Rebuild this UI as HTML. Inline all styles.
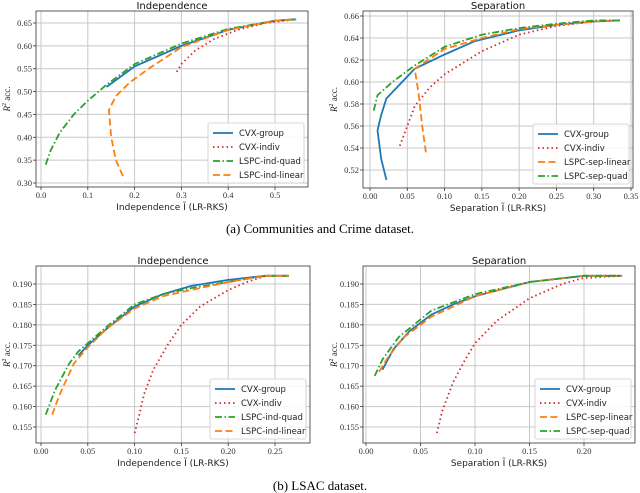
<!DOCTYPE html>
<html><head><meta charset="utf-8"><style>
body{margin:0;background:#fff;width:640px;height:493px;overflow:hidden}
svg{display:block}
.t{font-family:"DejaVu Sans","Liberation Sans",sans-serif}
.s{font-family:"Liberation Serif",serif}
</style></head><body>
<svg id="svg" width="640" height="493" xmlns="http://www.w3.org/2000/svg">
<text class="s" x="320" y="233" font-size="13" text-anchor="middle">(a) Communities and Crime dataset.</text>
<text class="s" x="320" y="490" font-size="13" text-anchor="middle">(b) LSAC dataset.</text>
</svg>
<script>
const NS="http://www.w3.org/2000/svg";
const svg=document.getElementById('svg');
const COL={'CVX-group':'#1f77b4','CVX-indiv':'#d62728','quad':'#2ca02c','linear':'#ff7f0e'};
// ---- data ----
const p1_cvxGroupX=[0.14,0.2,0.3,0.4,0.5,0.545];
const p1_cvxGroupY=[0.51,0.555,0.6,0.635,0.655,0.658];
const p1_cvxIndivX=[0.29,0.3,0.33,0.37,0.42,0.48,0.545];
const p1_cvxIndivY=[0.543,0.56,0.59,0.615,0.635,0.65,0.658];
const p1_quadX=[0.01,0.02,0.04,0.07,0.1,0.14,0.2,0.3,0.4,0.5,0.545];
const p1_quadY=[0.34,0.37,0.41,0.45,0.48,0.515,0.56,0.605,0.637,0.655,0.658];
const p1_linX=[0.175,0.16,0.15,0.145,0.16,0.19,0.23,0.3,0.4,0.5,0.545];
const p1_linY=[0.315,0.35,0.4,0.46,0.49,0.52,0.55,0.597,0.635,0.655,0.658];

const p2_cvxGroupX=[0.022,0.015,0.01,0.015,0.022,0.06,0.1,0.14,0.2,0.25,0.3,0.335];
const p2_cvxGroupY=[0.511,0.53,0.556,0.57,0.585,0.612,0.625,0.637,0.647,0.652,0.655,0.656];
const p2_cvxIndivX=[0.04,0.05,0.06,0.08,0.1,0.15,0.2,0.25,0.3,0.335];
const p2_cvxIndivY=[0.542,0.56,0.578,0.595,0.607,0.628,0.643,0.651,0.655,0.656];
const p2_linX=[0.075,0.07,0.065,0.06,0.1,0.15,0.2,0.25,0.3,0.335];
const p2_linY=[0.536,0.56,0.59,0.612,0.63,0.64,0.648,0.652,0.655,0.656];
const p2_quadX=[0.005,0.01,0.03,0.06,0.1,0.15,0.2,0.25,0.3,0.335];
const p2_quadY=[0.574,0.588,0.6,0.615,0.632,0.643,0.649,0.653,0.656,0.656];

const p3_cvxGroupX=[0.04,0.05,0.07,0.1,0.13,0.16,0.2,0.24,0.265];
const p3_cvxGroupY=[0.1725,0.175,0.179,0.1845,0.1875,0.1895,0.191,0.192,0.192];
const p3_cvxIndivX=[0.1,0.105,0.11,0.12,0.135,0.15,0.17,0.2,0.22,0.24,0.265];
const p3_cvxIndivY=[0.1535,0.158,0.163,0.169,0.175,0.18,0.1845,0.1885,0.1905,0.192,0.192];
const p3_quadX=[0.005,0.015,0.03,0.04,0.05,0.07,0.1,0.13,0.16,0.2,0.24,0.265];
const p3_quadY=[0.158,0.164,0.1705,0.1735,0.1755,0.1795,0.185,0.1875,0.189,0.1905,0.192,0.192];
const p3_linX=[0.012,0.02,0.035,0.05,0.07,0.1,0.13,0.16,0.2,0.24,0.265];
const p3_linY=[0.158,0.163,0.1705,0.1745,0.179,0.184,0.187,0.1885,0.1905,0.192,0.192];

const p4_cvxGroupX=[0.015,0.025,0.04,0.06,0.08,0.1,0.15,0.2,0.235];
const p4_cvxGroupY=[0.169,0.174,0.1785,0.1825,0.185,0.187,0.1905,0.192,0.192];
const p4_cvxIndivX=[0.065,0.07,0.08,0.09,0.1,0.12,0.15,0.18,0.2,0.235];
const p4_cvxIndivY=[0.1535,0.159,0.166,0.171,0.1755,0.181,0.1865,0.19,0.1915,0.192];
const p4_linX=[0.012,0.02,0.035,0.06,0.1,0.15,0.2,0.235];
const p4_linY=[0.1685,0.172,0.177,0.182,0.187,0.1905,0.192,0.192];
const p4_quadX=[0.008,0.015,0.03,0.06,0.1,0.15,0.2,0.235];
const p4_quadY=[0.1675,0.1715,0.177,0.1835,0.1875,0.1905,0.192,0.192];

const p1_xt=["0.0","0.1","0.2","0.3","0.4","0.5"], p1_yt=["0.30","0.35","0.40","0.45","0.50","0.55","0.60","0.65"];
const p2_xt=["0.00","0.05","0.10","0.15","0.20","0.25","0.30","0.35"], p2_yt=["0.52","0.54","0.56","0.58","0.60","0.62","0.64","0.66"];
const p3_xt=["0.00","0.05","0.10","0.15","0.20","0.25"], p3_yt=["0.155","0.160","0.165","0.170","0.175","0.180","0.185","0.190"];
const p4_xt=["0.00","0.05","0.10","0.15","0.20"], p4_yt=p3_yt;

function el(tag,attrs,parent){const e=document.createElementNS(NS,tag);for(const k in attrs)e.setAttribute(k,attrs[k]);(parent||svg).appendChild(e);return e;}
const DASH={'CVX-group':'','CVX-indiv':'1.5,3','quad':'7,2.5,1.5,2.5','linear':'7,3.5'};

function plot(cfg){
  const g=el('g',{});
  
  
  const X=v=>cfg.px0+(v-cfg.x0)*(cfg.px1-cfg.px0)/(cfg.x1-cfg.x0);
  const Y=v=>cfg.py0+(v-cfg.y0)*(cfg.py1-cfg.py0)/(cfg.y1-cfg.y0);
  const [L,R,T,B]=cfg.box;
  cfg.xt.forEach(s=>{const x=X(+s);if(x<L||x>R)return;
    const l=el('line',{x1:x,x2:x,y1:T,y2:B,stroke:'#c8c8c8','stroke-width':1},g);
    
    el('line',{x1:x,x2:x,y1:B,y2:B+3,stroke:'#333','stroke-width':0.8},g);
    const t=el('text',{x:x,y:B+11,'font-size':8.5,'text-anchor':'middle',fill:'#333',class:'s'},g);t.textContent=s;
    });
  cfg.yt.forEach(s=>{const y=Y(+s);
    const l=el('line',{x1:L,x2:R,y1:y,y2:y,stroke:'#c8c8c8','stroke-width':1},g);
    
    el('line',{x1:L-3,x2:L,y1:y,y2:y,stroke:'#333','stroke-width':0.8},g);
    const t=el('text',{x:L-4,y:y+3,'font-size':8.5,'text-anchor':'end',fill:'#333',class:'s'},g);t.textContent=s;
    });
  const fr=el('rect',{x:L,y:T,width:R-L,height:B-T,fill:'none',stroke:'#333','stroke-width':0.8},g);
  
  const cp='cp'+cfg.name;const c=el('clipPath',{id:cp},g);el('rect',{x:L,y:T,width:R-L,height:B-T},c);
  cfg.series.forEach(s=>{
    const d=s.x.map((v,i)=>(i?'L':'M')+X(v).toFixed(1)+','+Y(s.y[i]).toFixed(1)).join('');
    const p=el('path',{d:d,fill:'none',stroke:COL[s.k],'stroke-width':1.8,'stroke-dasharray':DASH[s.k],'clip-path':'url(#'+cp+')'},g);
    
    
  });
  const ti=el('text',{x:(L+R)/2,y:T-2,'font-size':10,'text-anchor':'middle',fill:'#111',class:'t'},g);ti.textContent=cfg.title;
  
  const xl=el('text',{x:(L+R)/2,y:B+23,'font-size':9,'text-anchor':'middle',fill:'#222',class:'t'},g);xl.textContent=cfg.xlabel;
  
  const yl=el('text',{x:0,y:0,'font-size':9,'text-anchor':'middle',fill:'#222',class:'s',transform:`translate(${L-26},${(T+B)/2}) rotate(-90)`},g);
  yl.innerHTML='<tspan font-style="italic">R</tspan><tspan font-size="6" dy="-4">2</tspan><tspan dy="4"> acc.</tspan>';
  
  const lx=R-100,ly=B-64;
  const lg=el('g',{},g);
  el('rect',{x:lx,y:ly,width:96,height:60,rx:2,fill:'#fff','fill-opacity':0.85,stroke:'#ccc','stroke-width':0.8},lg);
  cfg.series.forEach((s,i)=>{const yy=ly+10+i*14;
    el('line',{x1:lx+5,x2:lx+25,y1:yy,y2:yy,stroke:COL[s.k],'stroke-width':1.8,'stroke-dasharray':DASH[s.k]},lg);
    const t=el('text',{x:lx+31,y:yy+3,'font-size':8.5,fill:'#222',class:'t'},lg);t.textContent=s.label;
    });
}
plot({name:'chart-crime-independence',title:'Independence',xlabel:'Independence Ĩ (LR-RKS)',box:[36,308,11,187],
  x0:0,x1:0.5,px0:41,px1:275,y0:0.3,y1:0.65,py0:183,py1:23,xt:p1_xt,yt:p1_yt,
  series:[{k:'CVX-group',label:'CVX-group',x:p1_cvxGroupX,y:p1_cvxGroupY},{k:'CVX-indiv',label:'CVX-indiv',x:p1_cvxIndivX,y:p1_cvxIndivY},
  {k:'quad',label:'LSPC-ind-quad',x:p1_quadX,y:p1_quadY},{k:'linear',label:'LSPC-ind-linear',x:p1_linX,y:p1_linY}]});
plot({name:'chart-crime-separation',title:'Separation',xlabel:'Separation Ĩ (LR-RKS)',box:[363,633,11,188],
  x0:0,x1:0.35,px0:370,px1:631,y0:0.52,y1:0.66,py0:170,py1:16,xt:p2_xt,yt:p2_yt,
  series:[{k:'CVX-group',label:'CVX-group',x:p2_cvxGroupX,y:p2_cvxGroupY},{k:'CVX-indiv',label:'CVX-indiv',x:p2_cvxIndivX,y:p2_cvxIndivY},
  {k:'linear',label:'LSPC-sep-linear',x:p2_linX,y:p2_linY},{k:'quad',label:'LSPC-sep-quad',x:p2_quadX,y:p2_quadY}]});
plot({name:'chart-lsac-independence',title:'Independence',xlabel:'Independence Ĩ (LR-RKS)',box:[36,310,266,443],
  x0:0,x1:0.25,px0:41,px1:275,y0:0.155,y1:0.19,py0:427,py1:284,xt:p3_xt,yt:p3_yt,
  series:[{k:'CVX-group',label:'CVX-group',x:p3_cvxGroupX,y:p3_cvxGroupY},{k:'CVX-indiv',label:'CVX-indiv',x:p3_cvxIndivX,y:p3_cvxIndivY},
  {k:'quad',label:'LSPC-ind-quad',x:p3_quadX,y:p3_quadY},{k:'linear',label:'LSPC-ind-linear',x:p3_linX,y:p3_linY}]});
plot({name:'chart-lsac-separation',title:'Separation',xlabel:'Separation Ĩ (LR-RKS)',box:[363,635,266,443],
  x0:0,x1:0.2,px0:366,px1:584,y0:0.155,y1:0.19,py0:427,py1:284,xt:p4_xt,yt:p4_yt,
  series:[{k:'CVX-group',label:'CVX-group',x:p4_cvxGroupX,y:p4_cvxGroupY},{k:'CVX-indiv',label:'CVX-indiv',x:p4_cvxIndivX,y:p4_cvxIndivY},
  {k:'linear',label:'LSPC-sep-linear',x:p4_linX,y:p4_linY},{k:'quad',label:'LSPC-sep-quad',x:p4_quadX,y:p4_quadY}]});
</script>
</body></html>
